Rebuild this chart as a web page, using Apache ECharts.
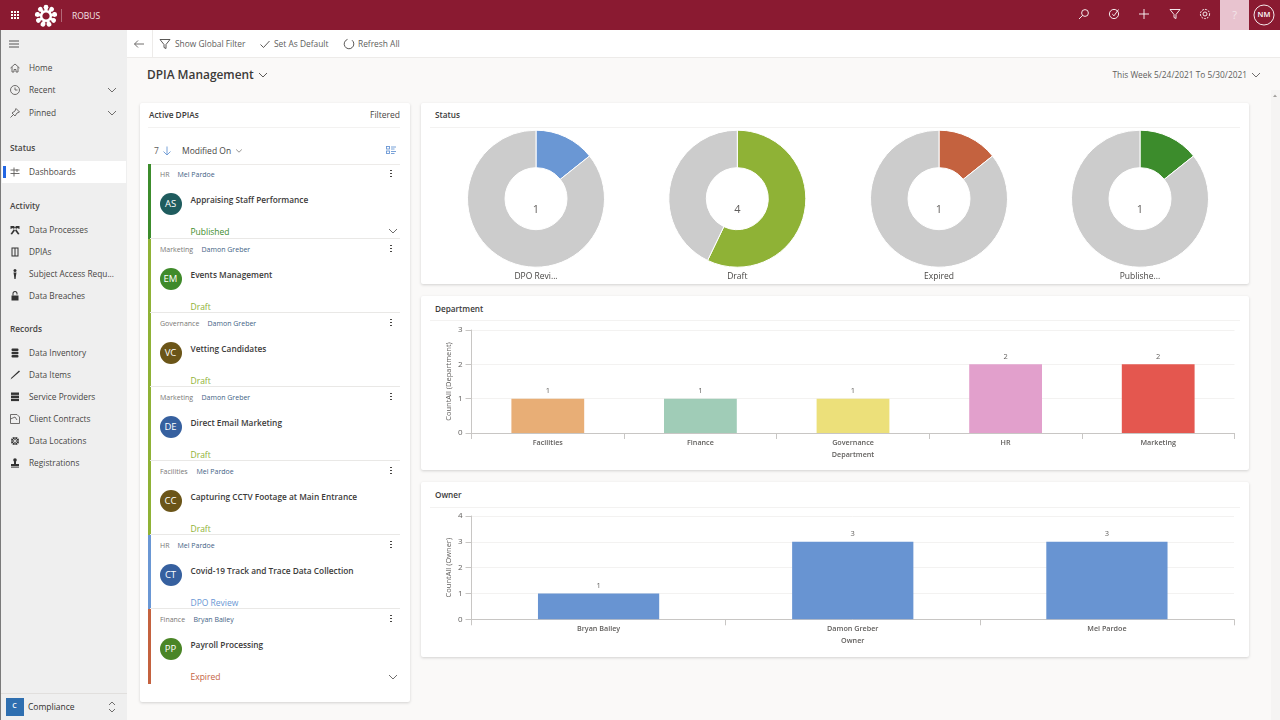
<!DOCTYPE html>
<html lang="en">
<head>
<meta charset="utf-8">
<title>DPIA Management</title>
<script src="https://cdn.jsdelivr.net/npm/echarts@6/dist/echarts.min.js"></script>
<style>
  html, body { margin: 0; padding: 0; width: 1280px; height: 720px; overflow: hidden; background: #faf9f8; }
  body { font-family: "Open Sans", "Noto Sans", sans-serif; color: #323130; position: relative; }
  .abs { position: absolute; white-space: nowrap; line-height: 1; }
  .box { position: absolute; }
  .panel { position: absolute; background: #fff; box-shadow: 0 1px 3px rgba(0,0,0,.16); border-radius: 2px; }
  svg { position: absolute; overflow: visible; fill: none; }
  #chart { position: absolute; left: 0; top: 0; width: 1280px; height: 720px; }
</style>
</head>
<body>
<div id="page"></div>
<div id="chart"></div>

<script type="text/javascript">
// 图表数据
const statusNames = ['DPO Revi...', 'Draft', 'Expired', 'Publishe...'];
const statusCounts = [1, 4, 1, 1];
const statusRest = [6, 3, 6, 6];
const statusColors = ['#6a97d4', '#8fb236', '#c4623f', '#3c8c2c'];

const deptNames = ['Facilities', 'Finance', 'Governance', 'HR', 'Marketing'];
const deptCounts = [1, 1, 1, 2, 2];
const deptColors = ['#e8ae76', '#a0ccb7', '#ece07a', '#e2a0cc', '#e4574f'];

const ownerNames = ['Bryan Bailey', 'Damon Greber', 'Mel Pardoe'];
const ownerCounts = [1, 3, 3];

// 列表卡片
const cardDept = ['HR', 'Marketing', 'Governance', 'Marketing', 'Facilities', 'HR', 'Finance'];
const cardOwner = ['Mel Pardoe', 'Damon Greber', 'Damon Greber', 'Damon Greber', 'Mel Pardoe', 'Mel Pardoe', 'Bryan Bailey'];
const cardTitle = ['Appraising Staff Performance', 'Events Management', 'Vetting Candidates', 'Direct Email Marketing', 'Capturing CCTV Footage at Main Entrance', 'Covid-19 Track and Trace Data Collection', 'Payroll Processing'];
const cardInitials = ['AS', 'EM', 'VC', 'DE', 'CC', 'CT', 'PP'];
const cardAvatar = ['#1f5c5e', '#3f8a2a', '#6b5518', '#36609f', '#6b5518', '#36609f', '#4a8526'];
const cardStatus = ['Published', 'Draft', 'Draft', 'Draft', 'Draft', 'DPO Review', 'Expired'];
const cardColor = ['#3c8c2c', '#8fb236', '#8fb236', '#8fb236', '#8fb236', '#6a97d4', '#c4623f'];

const page = document.getElementById('page');

function box(x, y, w, h, bg, cls) {
    let d = document.createElement('div');
    d.className = cls || 'box';
    d.style.cssText = `left:${x}px;top:${y}px;width:${w}px;height:${h}px;` + (bg ? `background:${bg};` : '');
    page.appendChild(d);
    return d;
}

// y 是文字垂直中心
function text(str, x, y, size, color, weight, align) {
    let d = document.createElement('div');
    d.className = 'abs';
    d.textContent = str;
    let tx = align === 'right' ? 'translate(-100%,-50%)' : align === 'center' ? 'translate(-50%,-50%)' : 'translateY(-50%)';
    d.style.cssText = `left:${x}px;top:${y}px;font-size:${size}px;color:${color || '#323130'};font-weight:${weight || 400};transform:${tx};`;
    page.appendChild(d);
    return d;
}

// 图标，以 (x,y) 为中心的 16x16 小图
function icon(x, y, body, color, solid) {
    let c = color || '#605e5c';
    let s = document.createElementNS('http://www.w3.org/2000/svg', 'svg');
    s.setAttribute('width', 16);
    s.setAttribute('height', 16);
    s.setAttribute('viewBox', '-8 -8 16 16');
    s.style.left = (x - 8) + 'px';
    s.style.top = (y - 8) + 'px';
    s.innerHTML = `<g stroke="${solid ? 'none' : c}" fill="${solid ? c : 'none'}" stroke-width="0.9">${body}</g>`;
    page.appendChild(s);
}

const chevDown = '<path d="M-4 -2 L0 2 L4 -2"/>';
const filterIco = '<path d="M-5 -4.5 H5 L1 0.5 V4.5 L-1 3.5 V0.5 Z"/>';

// 顶栏
box(0, 0, 1280, 30, '#8a1a31');
[-3, 0, 3].forEach(a => [-3, 0, 3].forEach(b => box(15 + a - 0.7, 15 + b - 0.7, 1.5, 1.5, '#fff')));
let logo = '<circle r="5.4" stroke="#fff" stroke-width="3.6"/>';
for (let i = 0; i < 9; i++) {
    logo += `<circle cy="-8.8" r="2.4" fill="#fff" stroke="none" transform="rotate(${i * 40})"/>`;
    logo += `<circle cy="-6.6" r="0.8" fill="#8a1a31" stroke="none" transform="rotate(${i * 40 + 20})"/>`;
}
icon(45.5, 15.5, logo, '#fff');
box(61, 9, 1, 13, 'rgba(255,255,255,.35)');
text('ROBUS', 72, 15.5, 8.5, '#f3e3e6');
icon(1084, 14, '<circle cx="1" cy="-1" r="3.4"/><path d="M-1.4 1.4 L-5 5"/>', '#fff');
icon(1114, 14, '<circle r="4.6"/><path d="M-1.8 0 L0 1.8 L4.5 -4.5"/>', '#fff');
icon(1144, 14, '<path d="M-5 0 H5 M0 -5 V5"/>', '#fff');
icon(1175, 14, filterIco, '#fff');
icon(1205, 14, '<circle r="2"/><circle r="4.6" stroke-dasharray="2 1"/>', '#fff');
box(1220, 0, 29, 30, '#e8c3cf');
text('?', 1234.5, 14, 11, '#f4e6ea', 400, 'center');
icon(1264, 15, '<circle r="10"/>', '#fff');
text('NM', 1264, 15, 7.5, '#fff', 600, 'center');

// 侧栏
box(0, 30, 127, 690, '#efefef');
box(0, 30, 1, 690, '#7a7a7a');
icon(14, 44, '<path d="M-5 -3 H5 M-5 0 H5 M-5 3 H5"/>', '#444');
const navIcons = {
    home: '<path d="M-4.5 0 L0 -4 L4.5 0 M-3 -1 V4 H-1 V1.5 H1 V4 H3 V-1"/>',
    clock: '<circle r="4.5"/><path d="M0 -2.5 V0 H2.5"/>',
    pin: '<path d="M1 -4.5 L4.5 -1 L2 0 L0 3 L-3 0 L0 -2 Z M-1.5 1.5 L-4.5 4.5"/>',
    dash: '<path d="M-4.5 -2 H4.5 M-4.5 1.5 H4.5 M-1 -4.5 V4.5 M2 -3 V0"/>',
    hammer: '<path d="M-4.5 -4 L-1 -4 L4.5 4 L3 4.5 L-2 -2 L-4.5 -1 Z M4.5 -4 L1 -4 L-4.5 4 L-3 4.5 L2 -2 L4.5 -1 Z"/>',
    grid: '<path fill-rule="evenodd" d="M-3.5 -4.5 H3.5 V4.5 H-3.5 Z M-2.5 -3.5 V3.5 H-0.5 V-3.5 Z M0.5 -3.5 V3.5 H2.5 V-3.5 Z"/>',
    person: '<circle cy="-3.5" r="1.5"/><path d="M-1.5 -1.5 H1.5 L1 1.5 L0.6 5 H-0.6 L-1 1.5 Z"/>',
    lock: '<rect x="-3.5" y="-0.5" width="7" height="5"/><path d="M-2.5 -0.5 V-2.5 A2.5 2.5 0 0 1 2.5 -2.5 V-1.5 H1.5 V-2.5 A1.5 1.5 0 0 0 -1.5 -2.5 V-0.5 Z"/>',
    db: '<rect x="-3.5" y="-4.5" width="7" height="2.5" rx="1"/><rect x="-3.5" y="-1.3" width="7" height="2.5" rx="1"/><rect x="-3.5" y="1.9" width="7" height="2.5" rx="1"/>',
    pen: '<path d="M4 -4.5 L5 -3.5 L-2.5 3 L-4.5 4.5 L-3.5 2.5 Z"/>',
    list: '<rect x="-4" y="-4.5" width="8" height="2.4"/><rect x="-4" y="-1.4" width="8" height="2.4"/><rect x="-4" y="1.7" width="8" height="2.4"/>',
    doc: '<path d="M-4.5 -4.5 H2 L4.5 -2 V4.5 H-4.5 Z M-4.5 0 L0 -2 L2 1"/>',
    globe: '<circle r="4"/><path d="M-4 0 H4 M0 -4 V4 M-3 -3 L3 3 M3 -3 L-3 3" stroke="#efefef" stroke-width="0.7"/>',
    stamp: '<circle cy="-3" r="1.8"/><rect x="-1" y="-2" width="2" height="3"/><rect x="-4" y="1" width="8" height="2"/><rect x="-4" y="3.6" width="8" height="1"/>'
};
const navRows = [
    ['Home', 68, 'home', false], ['Recent', 90, 'clock', false], ['Pinned', 113, 'pin', false],
    ['Dashboards', 172, 'dash', false],
    ['Data Processes', 230, 'hammer', true], ['DPIAs', 252, 'grid', true],
    ['Subject Access Requ...', 274, 'person', true], ['Data Breaches', 296, 'lock', true],
    ['Data Inventory', 353, 'db', true], ['Data Items', 375, 'pen', true],
    ['Service Providers', 397, 'list', true], ['Client Contracts', 419, 'doc', false],
    ['Data Locations', 441, 'globe', true], ['Registrations', 463, 'stamp', true]
];
box(2, 161, 124, 22, '#fff');
box(3, 166, 2.5, 12, '#2266e3');
navRows.forEach(r => {
    text(r[0], 29, r[1], 8.3, '#484644');
    icon(14.5, r[1], navIcons[r[2]], r[3] ? '#333' : '#605e5c', r[3]);
});
text('Status', 10, 148, 8.3, '#484644', 600);
text('Activity', 10, 205.5, 8.3, '#484644', 600);
text('Records', 10, 329, 8.3, '#484644', 600);
icon(112, 90, chevDown, '#605e5c');
icon(112, 113, chevDown, '#605e5c');
box(1, 693, 126, 1, '#e1dfdd');
box(6, 698, 17.5, 18, '#2f6fb0');
text('C', 14.5, 705, 7, '#fff', 600, 'center');
text('Compliance', 28, 707, 8.5, '#323130', 400);
icon(112, 707, '<path d="M-3 -2 L0 -5 L3 -2 M-3 2 L0 5 L3 2"/>', '#605e5c');

// 工具栏
box(127, 30, 1153, 27, '#fff');
box(127, 56.5, 1153, 1, '#edebe9');
box(152, 30, 1, 27, '#edebe9');
icon(139, 43.5, '<path d="M5 0 H-4.5 M-1 -3.5 L-4.5 0 L-1 3.5"/>', '#605e5c');
icon(165, 44, filterIco, '#484644');
text('Show Global Filter', 175, 44, 8.4, '#605e5c');
icon(264.5, 44, '<path d="M-4.5 0.5 L-1.5 3.5 L4.5 -3"/>', '#484644');
text('Set As Default', 274, 44, 8.4, '#605e5c');
icon(348.5, 44, '<path d="M-1.5 -4.6 A4.8 4.8 0 1 0 3 -3.8"/>', '#484644');
text('Refresh All', 358, 44, 8.4, '#605e5c');

text('DPIA Management', 147, 74.5, 11.9, '#3b3a39', 600);
icon(263, 74.5, chevDown, '#484644');
text('This Week 5/24/2021 To 5/30/2021', 1247, 75, 8.35, '#605e5c', 400, 'right');
icon(1256, 74.5, chevDown, '#605e5c');

// 滚动条
box(1271, 90, 9, 630, '#f5f4f3');
icon(1275, 96, '<path d="M-2 1 L0 -1.5 L2 1 Z"/>', '#a19f9d', true);

// 面板
box(140, 103, 270, 599, '#fff', 'panel');
box(421, 103, 828, 181, '#fff', 'panel');
box(421, 296, 828, 174, '#fff', 'panel');
box(421, 482, 828, 175, '#fff', 'panel');
box(148, 127, 252, 1, '#f3f2f1');
box(430, 127, 810, 1, '#f3f2f1');
box(430, 320, 810, 1, '#f3f2f1');
box(430, 507, 810, 1, '#f3f2f1');
text('Active DPIAs', 149, 115, 8.3, '#3b3a39', 600);
text('Filtered', 400, 115, 8.5, '#484644', 400, 'right');
text('Status', 435, 115, 8.2, '#3b3a39', 600);
text('Department', 435, 308.5, 8.2, '#3b3a39', 600);
text('Owner', 435, 495, 8.2, '#3b3a39', 600);

text('7', 154, 150.5, 8.5, '#605e5c');
icon(167, 150.5, '<path d="M0 -4.5 V4 M-3.5 0.5 L0 4 L3.5 0.5"/>', '#6a97d4');
text('Modified On', 182, 150.5, 8.5, '#484644');
icon(239, 150.5, '<path d="M-2.8 -1.5 L0 1.2 L2.8 -1.5"/>', '#8a8886');
icon(390.5, 149.5, '<rect x="-4.5" y="-3.5" width="3" height="2.5"/><rect x="-4.5" y="1" width="3" height="2.5"/><path d="M0 -3 H5 M0 -1 H3.5 M0 1.5 H5 M0 3.5 H3.5"/>', '#6a97d4');
box(148, 163.5, 252, 1, '#edebe9');

// 卡片
cardTitle.forEach((title, i) => {
    let top = i === 0 ? 164 : 165 + i * 74;
    let h = i === 0 ? 75 : i === 6 ? 75 : 74;
    box(148, top, 2.5, h, cardColor[i]);
    if (i < 6) box(150, top + h - 1, 250, 1, '#e9e8e6');
    let dept = text(cardDept[i], 160, top + 10, 7, '#797775');
    let owner = text(cardOwner[i], 0, top + 10, 7, '#3f5f85');
    owner.style.left = (160 + dept.offsetWidth + 8.5) + 'px';
    for (let k = -1; k <= 1; k++) box(390.3, top + 9.5 + k * 3.3 - 0.6, 1.3, 1.3, '#484644');
    let av = box(159.5, top + 29, 22, 22, cardAvatar[i]);
    av.style.borderRadius = '50%';
    text(cardInitials[i], 170.5, top + 40, 9.5, '#fff', 400, 'center');
    text(title, 190.5, top + 35.5, 8.3, '#3b3a39', 600);
    text(cardStatus[i], 190.5, top + 67.5, 8.5, cardColor[i]);
});
icon(393, 231, chevDown, '#605e5c');
icon(393, 677, chevDown, '#605e5c');

// 环形图 + 柱状图，一个实例
const pieCenters = [536, 737.3, 939, 1140];
const axisColor = '#c8c6c4';
const textColor = '#605e5c';
const font = '"Open Sans", sans-serif';

let pieSeries = statusNames.map((name, i) => ({
    type: 'pie',
    center: [pieCenters[i], 198.7],
    radius: [31, 68.5],
    startAngle: 90,
    clockwise: true,
    silent: true,
    animation: false,
    itemStyle: { borderColor: '#fff', borderWidth: 1 },
    labelLine: { show: false },
    emphasis: { disabled: true },
    data: [
        {
            value: statusCounts[i], name: name,
            itemStyle: { color: statusColors[i] },
            label: {
                show: true, position: 'center', offset: [0, 11.5],
                formatter: '{c}', fontSize: 11, color: textColor, fontFamily: font
            }
        },
        { value: statusRest[i], name: 'rest', itemStyle: { color: '#cccccc' }, label: { show: false } }
    ]
}));

let pieTitles = statusNames.map((name, i) => ({
    text: name,
    left: pieCenters[i],
    top: 272.5,
    textAlign: 'center',
    padding: 0,
    textStyle: { fontSize: 8.5, fontWeight: 400, color: '#484644', fontFamily: font }
}));

function barX(names, idx, axisName) {
    return {
        type: 'category', gridIndex: idx, data: names,
        name: axisName, nameLocation: 'middle', nameGap: 18,
        nameTextStyle: { fontSize: 7.2, fontWeight: 600, color: textColor, fontFamily: font },
        axisLine: { lineStyle: { color: axisColor } },
        axisTick: { show: true, length: 6, lineStyle: { color: axisColor } },
        axisLabel: { margin: 6, fontSize: 7.2, fontWeight: 600, color: textColor, fontFamily: font, interval: 0 }
    };
}

function barY(max, idx, axisName) {
    return {
        type: 'value', gridIndex: idx, min: 0, max: max, interval: 1,
        name: axisName, nameLocation: 'middle', nameGap: 19, nameRotate: 90, nameMoveOverlap: false,
        nameTextStyle: { fontSize: 7.5, fontWeight: 400, color: textColor, fontFamily: font },
        axisLine: { show: true, lineStyle: { color: axisColor } },
        axisTick: { show: true, length: 6, lineStyle: { color: axisColor } },
        axisLabel: { margin: 9, fontSize: 8, color: textColor, fontFamily: font },
        splitLine: { lineStyle: { color: '#f3f2f1' } }
    };
}

function barSeries(idx, values, colors) {
    return {
        type: 'bar', xAxisIndex: idx, yAxisIndex: idx, barWidth: '47.7%',
        silent: true, animation: false,
        label: { show: true, position: 'top', distance: 3.5, fontSize: 7.5, color: textColor, fontFamily: font },
        data: values.map((v, i) => ({ value: v, itemStyle: { color: colors[i % colors.length] } }))
    };
}

let Chart = echarts.init(document.getElementById('chart'), null, { width: 1280, height: 720 });

let option = {
    backgroundColor: 'transparent',
    animation: false,
    title: pieTitles,
    grid: [
        { left: 471.5, top: 330, width: 763, height: 103, containLabel: false },
        { left: 471.5, top: 516, width: 762.5, height: 103.3, containLabel: false }
    ],
    xAxis: [barX(deptNames, 0, 'Department'), barX(ownerNames, 1, 'Owner')],
    yAxis: [barY(3, 0, 'CountAll (Department)'), barY(4, 1, 'CountAll (Owner)')],
    series: pieSeries.concat([
        barSeries(0, deptCounts, deptColors),
        barSeries(1, ownerCounts, ['#6894d2'])
    ])
};

Chart.setOption(option);
</script>
</body>
</html>
